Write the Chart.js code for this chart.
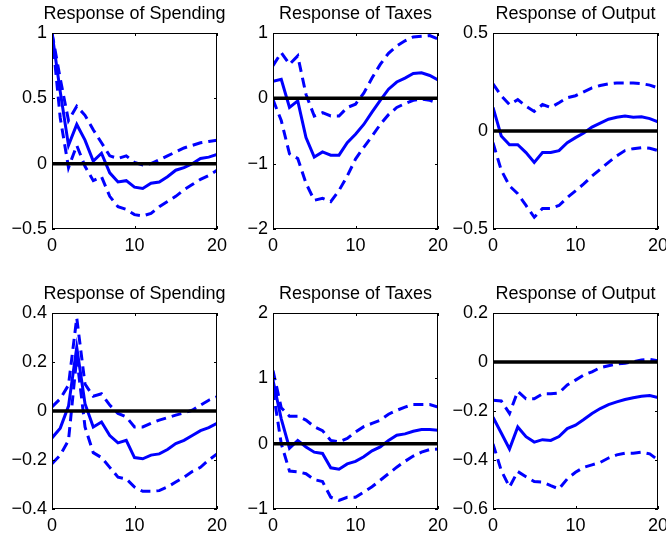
<!DOCTYPE html>
<html>
<head>
<meta charset="utf-8">
<script src="https://cdn.jsdelivr.net/npm/chart.js@4.4.1/dist/chart.umd.min.js"></script>
<style>
  body { margin: 0; width: 666px; height: 537px; overflow: hidden; background: white; position: relative; }
  canvas { position: absolute; }
</style>
</head>
<body>
<canvas id="c1" width="269" height="260" style="left:0px;top:0px"></canvas>
<canvas id="c2" width="269" height="260" style="left:221px;top:0px"></canvas>
<canvas id="c3" width="269" height="260" style="left:441px;top:0px"></canvas>
<canvas id="c4" width="269" height="260" style="left:0px;top:280px"></canvas>
<canvas id="c5" width="269" height="260" style="left:221px;top:280px"></canvas>
<canvas id="c6" width="269" height="260" style="left:441px;top:280px"></canvas>
<script>
// Data
const horizon = [0, 1, 2, 3, 4, 5, 6, 7, 8, 9, 10, 11, 12, 13, 14, 15, 16, 17, 18, 19, 20];
const xTicks = [0, 10, 20];

// top row
const spendMidA = [1.0, 0.55, 0.14, 0.30, 0.18, 0.02, 0.08, -0.07, -0.14, -0.13, -0.18, -0.19, -0.15, -0.14, -0.10, -0.05, -0.03, 0.0, 0.04, 0.05, 0.07];
const spendHiA = [1.0, 0.65, 0.33, 0.44, 0.37, 0.26, 0.16, 0.06, 0.04, 0.06, 0.01, -0.01, 0.0, 0.03, 0.06, 0.09, 0.12, 0.14, 0.16, 0.17, 0.18];
const spendLoA = [1.0, 0.35, -0.03, 0.14, -0.02, -0.13, -0.10, -0.25, -0.33, -0.35, -0.39, -0.40, -0.38, -0.33, -0.29, -0.25, -0.20, -0.16, -0.12, -0.09, -0.05];
const spendTicksA = [-0.5, 0, 0.5, 1];

const taxMidA = [0.26, 0.29, -0.14, -0.04, -0.60, -0.90, -0.82, -0.87, -0.87, -0.68, -0.55, -0.40, -0.21, -0.03, 0.14, 0.25, 0.31, 0.38, 0.39, 0.35, 0.28];
const taxHiA = [0.50, 0.70, 0.52, 0.65, 0.06, -0.27, -0.22, -0.27, -0.27, -0.14, -0.09, 0.08, 0.31, 0.52, 0.69, 0.80, 0.88, 0.94, 0.95, 0.96, 0.91];
const taxLoA = [-0.02, -0.34, -0.85, -0.92, -1.30, -1.56, -1.53, -1.58, -1.41, -1.19, -0.93, -0.75, -0.58, -0.40, -0.25, -0.14, -0.08, -0.03, -0.01, -0.03, -0.07];
const taxTicksA = [-2, -1, 0, 1];

const outMidA = [0.12, -0.025, -0.07, -0.07, -0.11, -0.16, -0.11, -0.11, -0.10, -0.06, -0.034, -0.01, 0.02, 0.04, 0.06, 0.07, 0.076, 0.07, 0.073, 0.063, 0.046];
const outHiA = [0.24, 0.18, 0.135, 0.16, 0.127, 0.10, 0.135, 0.12, 0.144, 0.17, 0.18, 0.20, 0.22, 0.232, 0.24, 0.245, 0.245, 0.245, 0.242, 0.234, 0.22];
const outLoA = [-0.06, -0.20, -0.28, -0.32, -0.38, -0.44, -0.395, -0.395, -0.38, -0.34, -0.305, -0.27, -0.23, -0.195, -0.16, -0.127, -0.10, -0.09, -0.085, -0.088, -0.10];
const outTicksA = [-0.5, 0, 0.5];

// bottom row
const spendMidB = [-0.11, -0.07, 0.02, 0.26, 0.03, -0.065, -0.045, -0.10, -0.13, -0.12, -0.19, -0.195, -0.18, -0.175, -0.157, -0.133, -0.12, -0.10, -0.08, -0.068, -0.05];
const spendHiB = [0.017, 0.05, 0.106, 0.38, 0.11, 0.06, 0.07, 0.024, -0.01, -0.024, -0.065, -0.065, -0.05, -0.037, -0.027, -0.017, -0.008, 0.003, 0.024, 0.044, 0.058];
const spendLoB = [-0.215, -0.18, -0.12, 0.22, -0.065, -0.17, -0.19, -0.23, -0.27, -0.277, -0.31, -0.328, -0.328, -0.325, -0.31, -0.29, -0.27, -0.247, -0.23, -0.20, -0.175];
const spendTicksB = [-0.4, -0.2, 0, 0.2, 0.4];

const taxMidB = [0.97, 0.38, -0.07, 0.05, -0.05, -0.13, -0.15, -0.37, -0.39, -0.31, -0.27, -0.20, -0.11, -0.05, 0.05, 0.13, 0.15, 0.19, 0.215, 0.215, 0.205];
const taxHiB = [1.12, 0.55, 0.42, 0.42, 0.36, 0.26, 0.20, 0.05, 0.03, 0.08, 0.18, 0.26, 0.31, 0.36, 0.45, 0.51, 0.56, 0.60, 0.60, 0.60, 0.56];
const taxLoB = [0.82, 0.0, -0.42, -0.43, -0.46, -0.55, -0.58, -0.82, -0.87, -0.82, -0.82, -0.74, -0.66, -0.56, -0.46, -0.36, -0.27, -0.19, -0.13, -0.09, -0.08];
const taxTicksB = [-1, 0, 1, 2];

const outMidB = [-0.225, -0.29, -0.355, -0.265, -0.305, -0.327, -0.317, -0.32, -0.304, -0.272, -0.258, -0.235, -0.21, -0.19, -0.174, -0.163, -0.153, -0.146, -0.14, -0.137, -0.145];
const outHiB = [-0.156, -0.159, -0.21, -0.12, -0.15, -0.15, -0.13, -0.13, -0.126, -0.094, -0.074, -0.053, -0.04, -0.023, -0.015, -0.008, -0.005, 0.001, 0.008, 0.011, 0.005];
const outLoB = [-0.334, -0.443, -0.51, -0.447, -0.468, -0.488, -0.49, -0.505, -0.518, -0.477, -0.45, -0.43, -0.42, -0.41, -0.392, -0.379, -0.372, -0.372, -0.368, -0.375, -0.40];
const outTicksB = [-0.6, -0.4, -0.2, 0, 0.2];

const FONT = { family: "'Liberation Sans', Arial, sans-serif", size: 18 };

// box round the plot area with small inward ticks, matlab style
const boxPlugin = {
  id: "box",
  afterDatasetsDraw(chart) {
    const ctx = chart.ctx;
    const a = chart.chartArea;
    const xs = chart.scales.x;
    const ys = chart.scales.y;
    ctx.save();
    ctx.strokeStyle = "black";
    ctx.lineWidth = 1;
    ctx.strokeRect(Math.round(a.left) + 0.5, Math.round(a.top) + 0.5, Math.round(a.width) - 1, Math.round(a.height) - 1);
    ctx.beginPath();
    ys.ticks.forEach((t) => {
      const py = Math.round(ys.getPixelForValue(t.value)) + 0.5;
      ctx.moveTo(a.left, py); ctx.lineTo(a.left + 3, py);
      ctx.moveTo(a.right, py); ctx.lineTo(a.right - 3, py);
    });
    xs.ticks.forEach((t) => {
      const px = Math.round(xs.getPixelForValue(t.value)) + 0.5;
      ctx.moveTo(px, a.top); ctx.lineTo(px, a.top + 3);
      ctx.moveTo(px, a.bottom); ctx.lineTo(px, a.bottom - 3);
    });
    ctx.stroke();
    // panel title, centred over the axes and not squeezed to their width
    ctx.fillStyle = "black";
    ctx.font = FONT.size + "px " + FONT.family;
    ctx.textAlign = "center";
    ctx.textBaseline = "alphabetic";
    ctx.fillText(chart.options.panelTitle, (a.left + a.right) / 2, 18.5);
    ctx.restore();
  },
};

function pts(arr) {
  return horizon.map((h, i) => ({ x: h, y: arr[i] }));
}

function minusLabel(v) {
  return String(v).replace("-", "\u2212");
}

function makePanel(id, title, yTicks, mid, lo, hi) {
  const data = {
    datasets: [
      { data: horizon.map((h) => ({ x: h, y: 0 })), borderColor: "black", borderWidth: 3.5, pointRadius: 0 },
      { data: pts(mid), borderColor: "rgb(0,0,255)", borderWidth: 3, pointRadius: 0 },
      { data: pts(hi), borderColor: "rgb(0,0,255)", borderWidth: 3, borderDash: [10, 6], pointRadius: 0 },
      { data: pts(lo), borderColor: "rgb(0,0,255)", borderWidth: 3, borderDash: [10, 6], pointRadius: 0 },
    ],
  };
  const config = {
    type: "line",
    data: data,
    options: {
      panelTitle: title,
      responsive: false,
      animation: false,
      devicePixelRatio: 1,
      layout: { padding: { left: 0, top: 33, right: 52, bottom: 0 } },
      scales: {
        x: {
          type: "linear",
          min: 0,
          max: 20,
          afterBuildTicks: (s) => { s.ticks = xTicks.map((v) => ({ value: v })); },
          afterFit: (s) => { s.height = 31; },
          grid: { display: false, drawTicks: false },
          border: { display: false },
          ticks: { color: "black", font: FONT, padding: 6, maxRotation: 0 },
        },
        y: {
          min: yTicks[0],
          max: yTicks[yTicks.length - 1],
          afterBuildTicks: (s) => { s.ticks = yTicks.map((v) => ({ value: v })); },
          afterFit: (s) => { s.width = 52; },
          grid: { display: false, drawTicks: false },
          border: { display: false },
          ticks: { color: "black", font: FONT, padding: 5, callback: (v) => minusLabel(v) },
        },
      },
      plugins: {
        legend: { display: false },
        tooltip: { enabled: false },
        title: { display: false },
      },
    },
    plugins: [boxPlugin],
  };
  return new Chart(document.getElementById(id), config);
}

makePanel("c1", "Response of Spending", spendTicksA, spendMidA, spendLoA, spendHiA);
makePanel("c2", "Response of Taxes", taxTicksA, taxMidA, taxLoA, taxHiA);
makePanel("c3", "Response of Output", outTicksA, outMidA, outLoA, outHiA);
makePanel("c4", "Response of Spending", spendTicksB, spendMidB, spendLoB, spendHiB);
makePanel("c5", "Response of Taxes", taxTicksB, taxMidB, taxLoB, taxHiB);
makePanel("c6", "Response of Output", outTicksB, outMidB, outLoB, outHiB);
</script>
</body>
</html>
